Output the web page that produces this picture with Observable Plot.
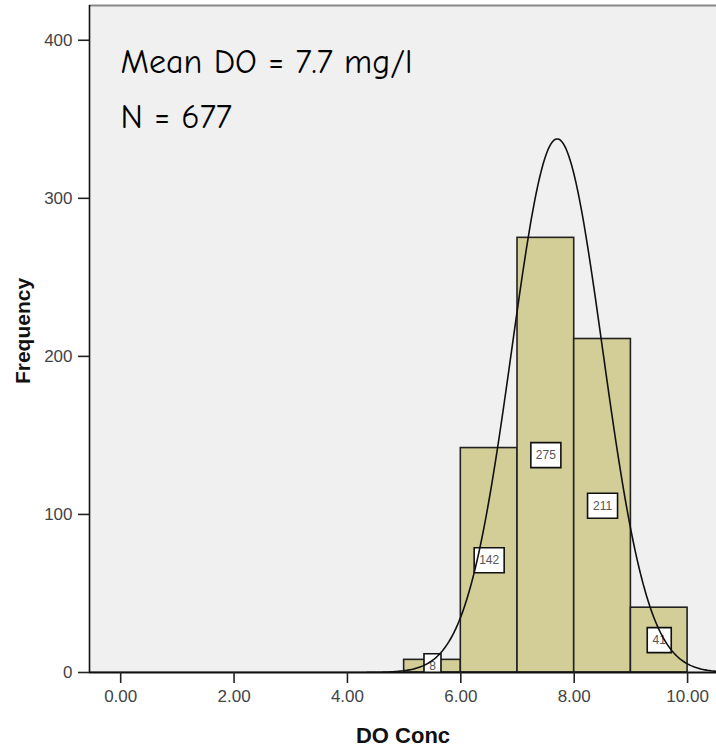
<!DOCTYPE html>
<html>
<head>
<meta charset="utf-8">
<script src="https://cdn.jsdelivr.net/npm/d3@7"></script>
<script src="https://cdn.jsdelivr.net/npm/@observablehq/plot@0.6"></script>
<style>
  html, body { margin: 0; padding: 0; background: #ffffff; }
</style>
</head>
<body>
<div id="chart"></div>
<script>
// ---- data ----
const binStarts = [5, 6, 7, 8, 9];
const binWidth = 1;
const counts = [8, 142, 275, 211, 41];
const xTicks = [0, 2, 4, 6, 8, 10];
const yTicks = [0, 100, 200, 300, 400];
const meanDO = 7.7;
const sdDO = 0.80;
const nObs = 677;
const annotation = ["Mean DO = 7.7 mg/l", "N = 677"];
const xLabel = "DO Conc";
const yLabel = "Frequency";

const xDomain = [-0.55, 10.51];
const yDomain = [0, 422];

const bars = binStarts.map((s, i) => ({x1: s, x2: s + binWidth, count: counts[i], label: String(counts[i]), xm: s + binWidth / 2}));

// fitted normal curve (from mean, sd and N, as the reference's overlay)
const curve = d3.range(xDomain[0], xDomain[1] + 0.001, 0.02).map(x => ({
  x,
  y: nObs * binWidth / (sdDO * Math.sqrt(2 * Math.PI)) * Math.exp(-((x - meanDO) ** 2) / (2 * sdDO * sdDO))
}));

function boxSymbol(w, h) {
  return {draw(ctx) { ctx.rect(-w / 2, -h / 2, w, h); }};
}
const boxWidths = {1: 17, 2: 24, 3: 30};

const boxMarks = [1, 2, 3].map(len => Plot.dot(bars.filter(d => d.label.length === len), {
  x: "xm", y: d => d.count / 2,
  symbol: boxSymbol(boxWidths[len], 25),
  fill: "white", stroke: "#111", strokeWidth: 1.6, clip: true
}));

const comic = "'Comic Sans MS', 'Comic Neue', 'DejaVu Sans', sans-serif";

const chart = Plot.plot({
  width: 716,
  height: 748,
  marginLeft: 89,
  marginRight: 0,
  marginTop: 5,
  marginBottom: 76,
  style: {background: "white", fontFamily: "'Liberation Sans', Arial, sans-serif", fontSize: "16px", color: "#333"},
  x: {domain: xDomain, label: null},
  y: {domain: yDomain, label: null},
  marks: [
    Plot.frame({fill: "#f0f0f0", stroke: "none"}),
    Plot.rectY(bars, {x1: "x1", x2: "x2", y: "count", fill: "#d3ce97", stroke: "#222", strokeWidth: 1.6}),
    ...boxMarks,
    Plot.text(bars, {x: "xm", y: d => d.count / 2, text: "label", fill: "#555", fontSize: 12, clip: true}),
    Plot.line(curve, {x: "x", y: "y", stroke: "#111", strokeWidth: 1.6, clip: true}),
    Plot.ruleY([yDomain[1]], {stroke: "#888", strokeWidth: 2}),
    Plot.ruleX([xDomain[0]], {stroke: "#111", strokeWidth: 1.6}),
    Plot.ruleY([0], {stroke: "#111", strokeWidth: 2}),
    Plot.axisY({ticks: yTicks, tickSize: 11, tickPadding: 6, fontSize: 17, strokeWidth: 1.6, stroke: "#222", fill: "#444", label: null}),
    Plot.axisX({ticks: xTicks, tickSize: 11, tickPadding: 6, fontSize: 17, strokeWidth: 1.6, stroke: "#222", fill: "#444", tickFormat: d3.format(".2f"), label: null}),
    Plot.text([annotation[0]], {frameAnchor: "top-left", dx: 31, dy: 67, text: d => d, fontSize: 34, lineAnchor: "bottom", fill: "#000", fontFamily: comic}),
    Plot.text([annotation[1]], {frameAnchor: "top-left", dx: 31, dy: 122, text: d => d, fontSize: 34, lineAnchor: "bottom", fill: "#000", fontFamily: comic}),
    Plot.text([yLabel], {frameAnchor: "left", dx: -66, dy: -8, rotate: -90, textAnchor: "middle", lineAnchor: "middle", text: d => d, fontSize: 21, fontWeight: "bold", fill: "#111"}),
    Plot.text([xLabel], {frameAnchor: "bottom", dy: 63, textAnchor: "middle", lineAnchor: "middle", text: d => d, fontSize: 22, fontWeight: "bold", fill: "#111"})
  ]
});
// make sure tick labels use the intended size
d3.select(chart).selectAll("g[aria-label='x-axis tick label'], g[aria-label='y-axis tick label']").attr("font-size", 17);
document.getElementById("chart").appendChild(chart);
</script>
</body>
</html>
